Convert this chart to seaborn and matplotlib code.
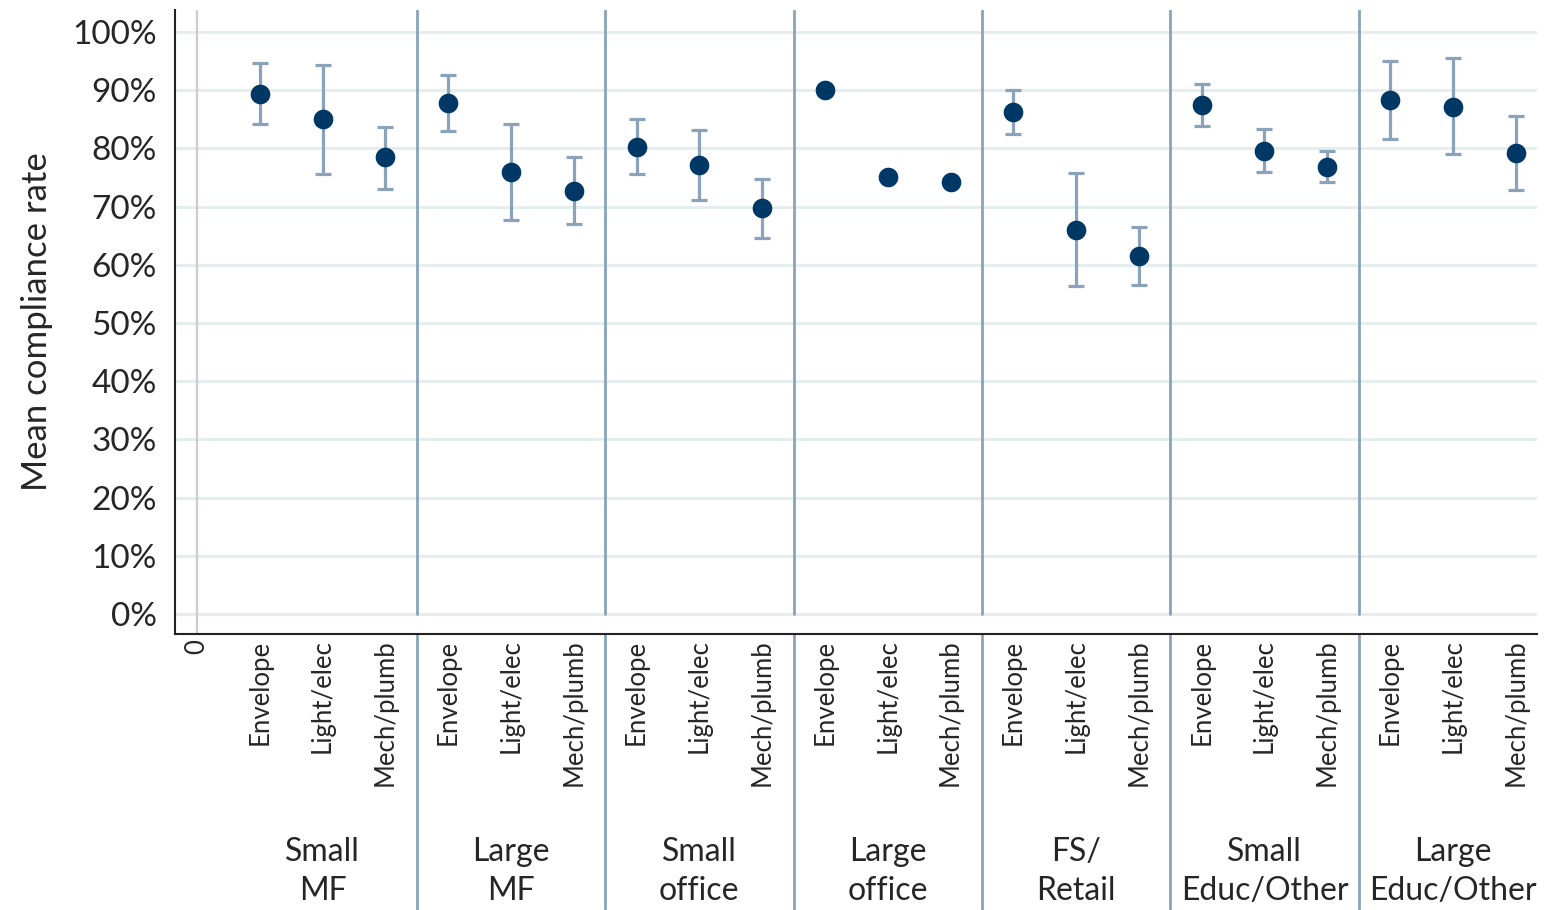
import numpy as np
import pandas as pd
import matplotlib
matplotlib.use("Agg")
import matplotlib.pyplot as plt
import seaborn as sns

# --- DATA ---
groups = ["Small\nMF", "Large\nMF", "Small\noffice", "Large\noffice",
          "FS/\nRetail", "Small\nEduc/Other", "Large\nEduc/Other"]
categories = ["Envelope", "Light/elec", "Mech/plumb"]

mean_rate = [89.3, 85.0, 78.5,
             87.9, 75.9, 72.7,
             80.3, 77.2, 69.7,
             90.1, 75.1, 74.2,
             86.3, 66.0, 61.5,
             87.5, 79.6, 76.9,
             88.4, 87.2, 79.2]
ci_high = [94.7, 94.4, 83.7,
           92.7, 84.2, 78.6,
           85.1, 83.2, 74.8,
           np.nan, np.nan, np.nan,
           90.1, 75.8, 66.5,
           91.1, 83.3, 79.6,
           95.1, 95.5, 85.5]
ci_low = [84.2, 75.7, 73.1,
          83.0, 67.7, 67.0,
          75.6, 71.2, 64.6,
          np.nan, np.nan, np.nan,
          82.5, 56.4, 56.5,
          83.9, 75.9, 74.2,
          81.6, 79.0, 72.8]

# --- STYLE ---
sns.set_theme(style="white")
plt.rcParams['font.family'] = ['Lato', 'DejaVu Sans']

DOT = "#003865"
ERR = "#8aa3ba"
SEP = "#8aa3ba"
GRID = "#e5eeef"

df = pd.DataFrame({
    "group": np.repeat(groups, len(categories)),
    "category": categories * len(groups),
    "mean": mean_rate,
    "hi": ci_high,
    "lo": ci_low,
})
df["pos"] = np.arange(1, len(df) + 1)

fig = plt.figure(figsize=(15.46, 9.10), dpi=100)
ax = fig.add_axes([175 / 1546, 1 - 634 / 910, (1537 - 175) / 1546, (634 - 10) / 910])

# gridlines
for v in range(0, 101, 10):
    ax.axhline(v, color=GRID, lw=2.2, zorder=0)

# zero marker line
ax.axvline(0, color="#cccccc", lw=1.6, zorder=1)

# error bars
has_ci = df["hi"].notna()
sub = df[has_ci]
ax.errorbar(sub["pos"], sub["mean"],
            yerr=[sub["mean"] - sub["lo"], sub["hi"] - sub["mean"]],
            fmt="none", ecolor=ERR, elinewidth=2.3, capsize=6, capthick=2.3, zorder=2)

sns.scatterplot(data=df, x="pos", y="mean", color=DOT, s=200, edgecolor=DOT,
                linewidth=0, ax=ax, zorder=3, legend=False)

# group separators (extend through label area)
for k in range(1, len(groups)):
    xsep = 3 * k + 0.5
    ax.plot([xsep, xsep], [103.8, 0], color=SEP, lw=2.0, zorder=1)
    ax.plot([xsep, xsep], [-3.44, -3.44 - 47.3], color=SEP, lw=2.0,
            clip_on=False, zorder=1)

ax.set_xlim(-0.35, 21.34)
ax.set_ylim(-3.44, 103.8)
ax.set_yticks(range(0, 101, 10))
ax.set_yticklabels([f"{v}%" for v in range(0, 101, 10)], fontsize=24)
ax.set_xticks([0] + list(df["pos"]))
ax.set_xticklabels(["0"] + list(df["category"]), rotation=90, fontsize=18.5)
ax.tick_params(axis="y", length=8, width=1.3, color="#333333", pad=5)
ax.tick_params(axis="x", length=0, pad=4)
ax.set_xlabel("")
ax.set_ylabel("Mean compliance rate", fontsize=25, labelpad=14)

for spine in ["top", "right"]:
    ax.spines[spine].set_visible(False)
ax.spines["left"].set_color("#222222")
ax.spines["left"].set_linewidth(1.5)
ax.spines["bottom"].set_color("#222222")
ax.spines["bottom"].set_linewidth(1.5)

# group labels
for i, g in enumerate(groups):
    ax.text(3 * i + 2, -44.3, g, ha="center", va="center", fontsize=23,
            linespacing=1.38, clip_on=False)

fig.savefig("out.png", dpi=100)
